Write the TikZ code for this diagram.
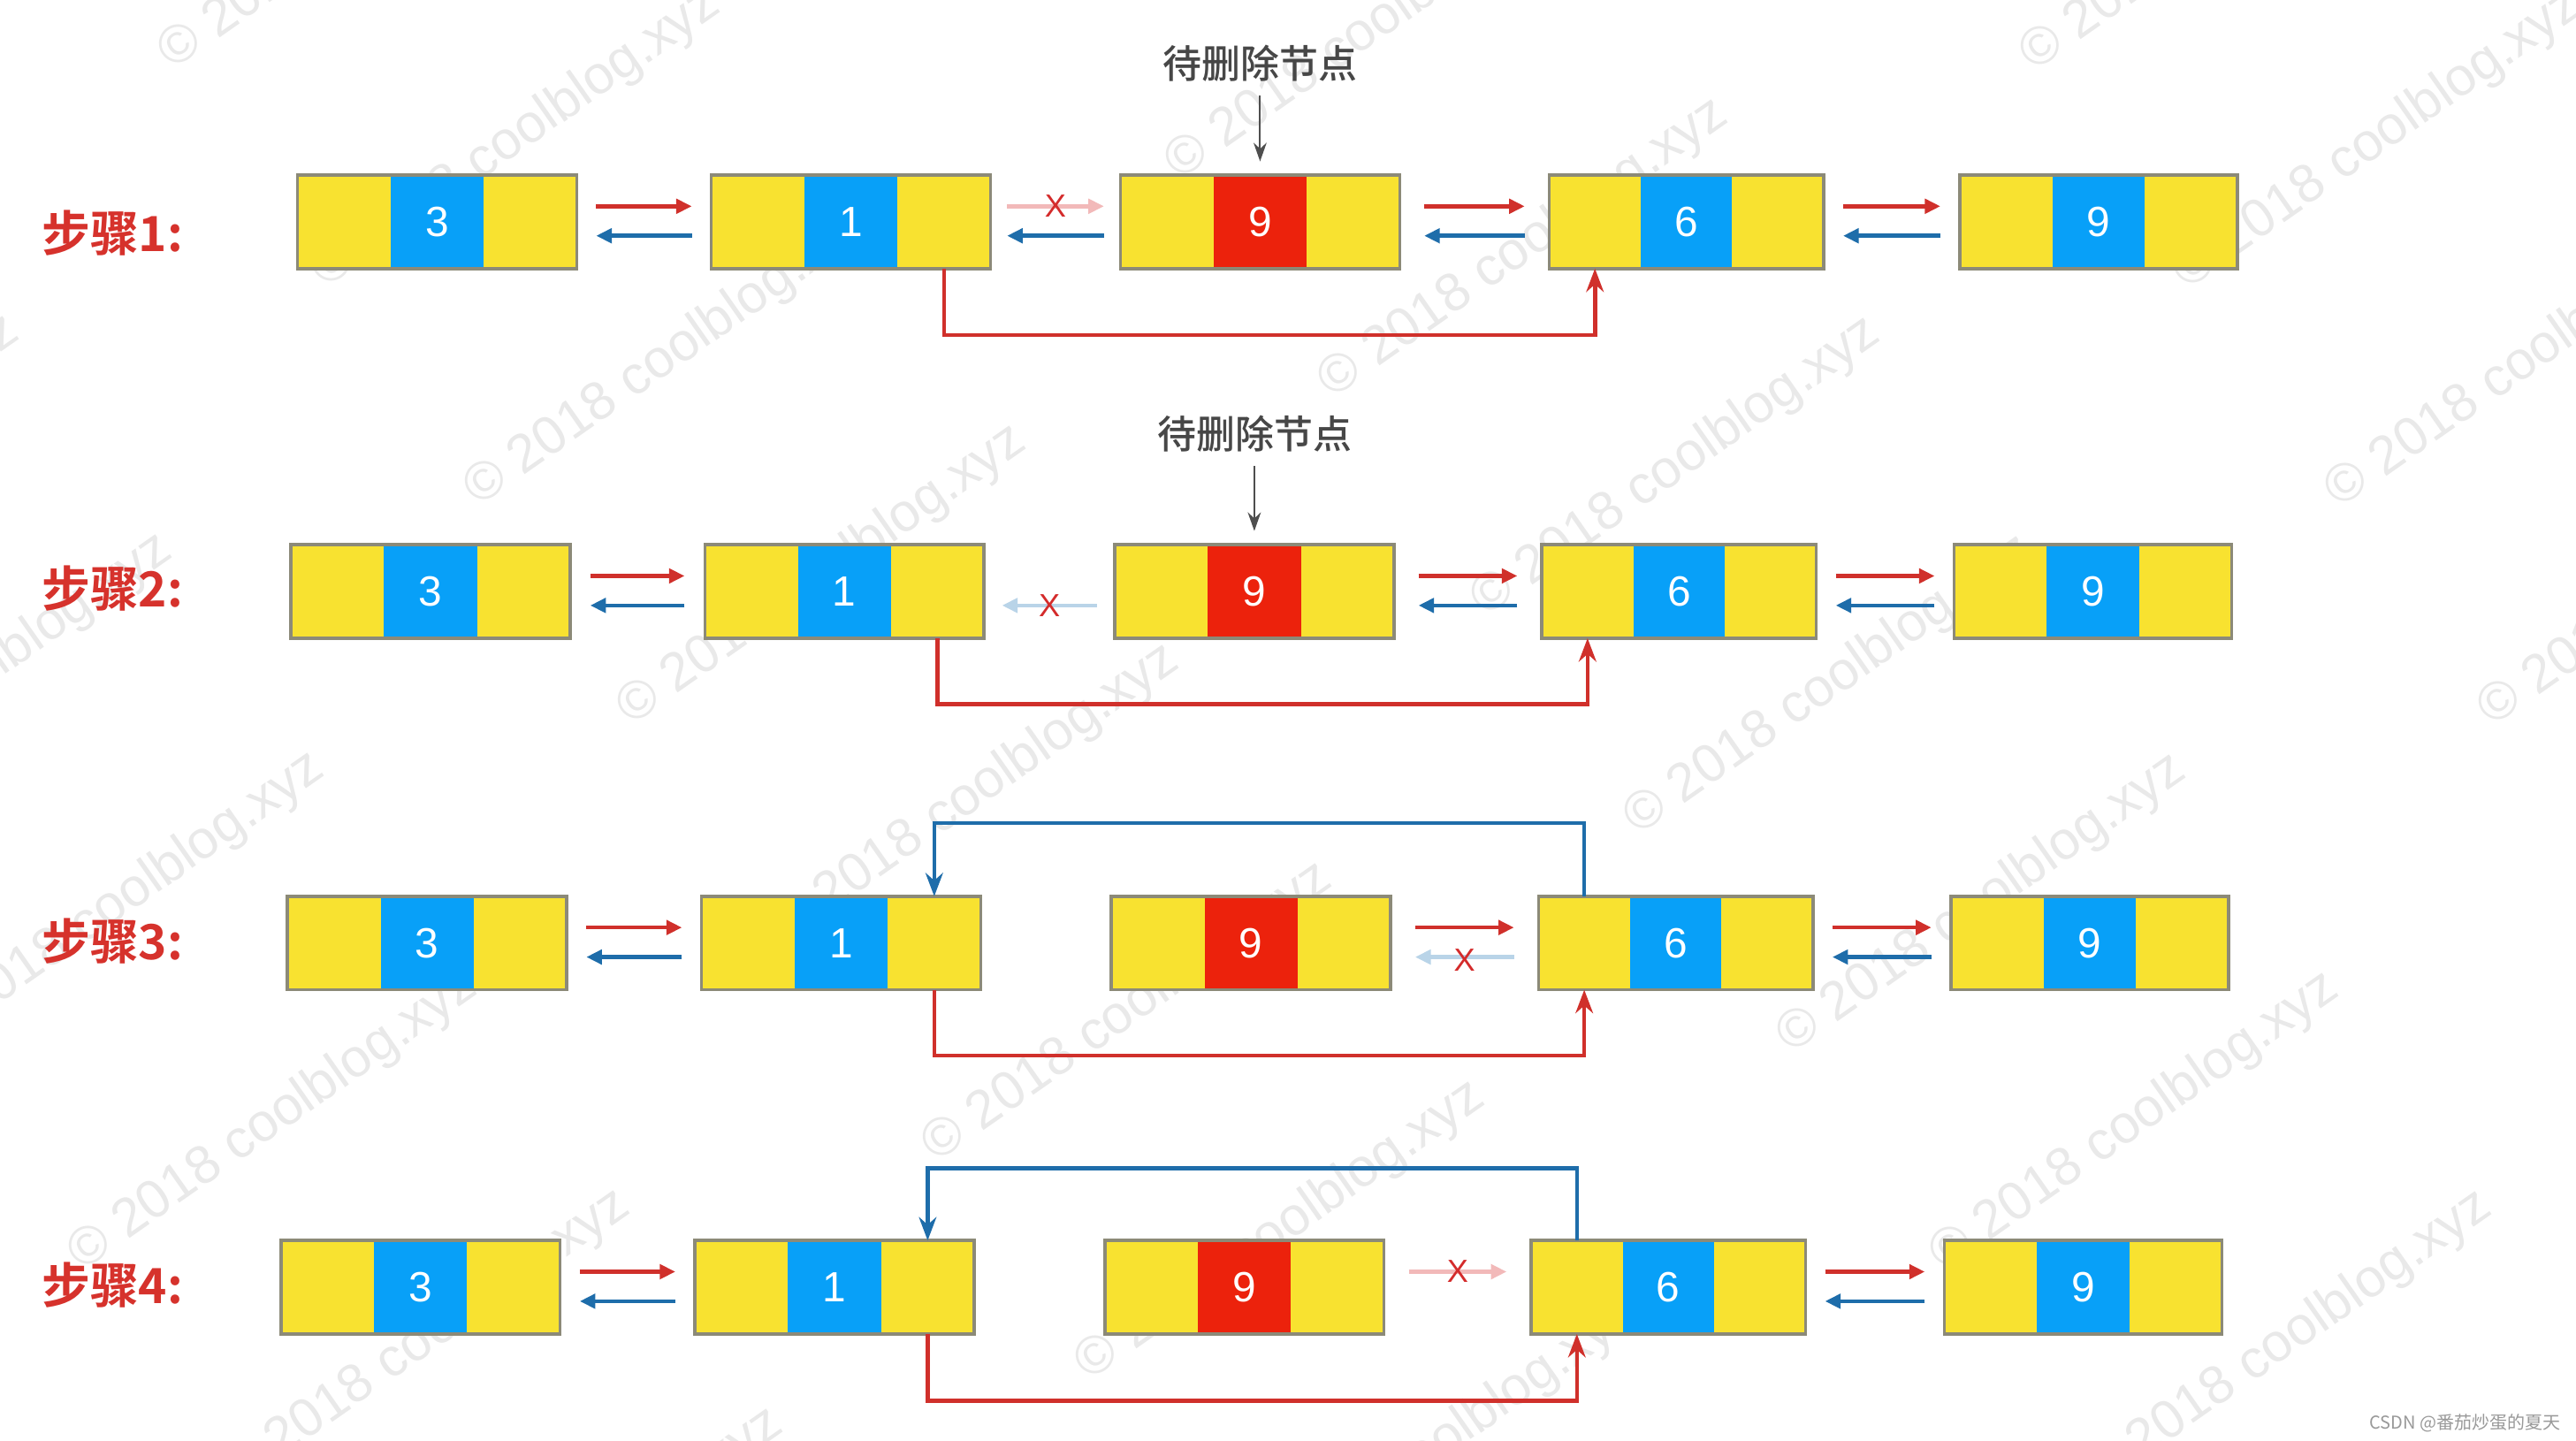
\documentclass[tikz,border=0pt]{standalone}
\usepackage{fontspec}
\setmainfont{Liberation Sans}
\newfontfamily\cjk{Noto Sans CJK SC}
\newfontfamily\cjkm{Noto Sans CJK SC Medium}
\newfontfamily\cjkb{Noto Sans CJK SC Bold}
\usetikzlibrary{arrows.meta,calc}
\definecolor{cyel}{HTML}{F8E230}
\definecolor{cblu}{HTML}{08A0F8}
\definecolor{cred}{HTML}{EC220C}
\definecolor{cbord}{HTML}{8C8A78}
\definecolor{arrred}{HTML}{D0302B}
\definecolor{arrblu}{HTML}{1E6DAA}
\definecolor{fpink}{HTML}{F2B9B9}
\definecolor{fblue}{HTML}{B9D4E8}
\definecolor{xred}{HTML}{D42B2B}
\definecolor{lblred}{HTML}{D6322C}
\definecolor{dgray}{HTML}{474747}
\definecolor{garr}{HTML}{4E4E4E}
\definecolor{wmgray}{HTML}{E9E9E9}
\definecolor{csdn}{HTML}{999999}

\newcommand\llbox[6]{%
  \node[cell, fill=#5, minimum width=#4] (#1-m) at (#2,#3) {#6};
  \node[cell, fill=cyel, minimum width=#4, anchor=east] (#1-l) at (#1-m.west) {};
  \node[cell, fill=cyel, minimum width=#4, anchor=west] (#1-r) at (#1-m.east) {};
  \draw[boxborder] (#1-l.north west) rectangle (#1-r.south east);
}
\newcommand\fw[4]{\draw[#1, shorten <=#4, shorten >=#4] ([yshift=5pt]#2-r.east) -- ([yshift=5pt]#3-l.west);}
\newcommand\bw[4]{\draw[#1, shorten <=#4, shorten >=#4] ([yshift=-4.5pt]#3-l.west) -- ([yshift=-4.5pt]#2-r.east);}

\begin{document}
\begin{tikzpicture}[x=0.5287pt, y=-0.5287pt,
  cell/.style={inner sep=0pt, outer sep=0pt, minimum height=30.1pt, text=white,
    font=\fontsize{13.6}{14}\selectfont},
  boxborder/.style={draw=cbord, line width=1pt},
  fwd/.style={draw=arrred, line width=1.3pt, -{Triangle[length=5pt,width=4.6pt]}},
  bwd/.style={draw=arrblu, line width=1.3pt, -{Triangle[length=5pt,width=4.6pt]}},
  fwdx/.style={draw=fpink, line width=1.3pt, -{Triangle[length=5pt,width=4.6pt]}},
  bwdx/.style={draw=fblue, line width=1.3pt, -{Triangle[length=5pt,width=4.6pt]}},
  xmark/.style={text=xred, font=\fontsize{10.3}{11}\selectfont, inner sep=0pt},
  byred/.style={draw=arrred, line width=1.3pt, -{Stealth[length=7.5pt,width=5.6pt]}},
  byblu/.style={draw=arrblu, line width=1.3pt, -{Stealth[length=7.5pt,width=5.6pt]}},
  grayarr/.style={draw=garr, line width=0.6pt, -{Stealth[length=6pt,width=4.2pt]}},
  delbl/.style={font=\cjkm\fontsize{12.5}{13}\selectfont, text=dgray, inner sep=0pt},
  steplbl/.style={font=\cjkb\fontsize{15.6}{16}\selectfont, text=lblred, inner sep=0pt, anchor=west},
  wm/.style={font=\fontsize{17.3}{18}\selectfont, text=wmgray, rotate=35, anchor=base west, inner sep=0pt},
  csdnlbl/.style={font=\cjk\fontsize{5.7}{6}\selectfont, text=csdn, inner sep=0pt, anchor=east}
]
\useasboundingbox (0,0) rectangle (1568,877);
\fill[white] (0,0) rectangle (1568,877);

% watermark (only the copies that reach the page)
\begin{scope}
\clip (0,0) rectangle (1568,877);
\foreach \i/\j in {2/-1,3/-1,4/-1,5/-1,6/-1,7/-1,
                   0/0,1/0,2/0,3/0,4/0,5/0,6/0,7/0,
                   1/1,2/1,3/1,4/1,5/1,6/1,7/1,
                   1/2,2/2,3/2,4/2}{
  \node[wm] (wm\i x\j) at ({105+93*\i+520*\j},{43+133*\i-66*\j}) {© 2018 coolblog.xyz};
}
\end{scope}

% step labels
\node[steplbl] (s1) at (25,142) {步骤1:};
\node[steplbl] (s2) at (25,358) {步骤2:};
\node[steplbl] (s3) at (25,573) {步骤3:};
\node[steplbl] (s4) at (25,782) {步骤4:};

% row 1
\llbox{A1}{266}{135}{29.96pt}{cblu}{3}
\llbox{B1}{518}{135}{29.96pt}{cblu}{1}
\llbox{C1}{767}{135}{29.96pt}{cred}{9}
\llbox{D1}{1026.5}{135}{29.43pt}{cblu}{6}
\llbox{E1}{1277.5}{135}{29.78pt}{cblu}{9}
% row 2
\llbox{A2}{262}{360}{29.96pt}{cblu}{3}
\llbox{B2}{514}{360}{29.96pt}{cblu}{1}
\llbox{C2}{763.5}{360}{29.96pt}{cred}{9}
\llbox{D2}{1022}{360}{29.43pt}{cblu}{6}
\llbox{E2}{1274}{360}{29.78pt}{cblu}{9}
% row 3
\llbox{A3}{260}{574}{29.96pt}{cblu}{3}
\llbox{B3}{512}{574}{29.96pt}{cblu}{1}
\llbox{C3}{761.5}{574}{29.96pt}{cred}{9}
\llbox{D3}{1020}{574}{29.43pt}{cblu}{6}
\llbox{E3}{1272}{574}{29.78pt}{cblu}{9}
% row 4
\llbox{A4}{256}{783.5}{29.96pt}{cblu}{3}
\llbox{B4}{508}{783.5}{29.96pt}{cblu}{1}
\llbox{C4}{757.5}{783.5}{29.96pt}{cred}{9}
\llbox{D4}{1015.5}{783.5}{29.43pt}{cblu}{6}
\llbox{E4}{1268}{783.5}{29.78pt}{cblu}{9}

% row 1 links
\fw{fwd}{A1}{B1}{6.3pt} \bw{bwd}{A1}{B1}{6.3pt}
\fw{fwdx}{B1}{C1}{5.3pt} \bw{bwd}{B1}{C1}{5.3pt}
\node[xmark] (x1) at ($([yshift=5pt]B1-r.east)!0.5!([yshift=5pt]C1-l.west)$) {X};
\fw{fwd}{C1}{D1}{7.9pt} \bw{bwd}{C1}{D1}{7.9pt}
\fw{fwd}{D1}{E1}{6.3pt} \bw{bwd}{D1}{E1}{6.3pt}
\draw[byred] (B1-r.south) -- ++(0,40.5) -| (D1-l.south);
\node[delbl] (del1) at (767,38.5) {待删除节点};
\draw[grayarr, shorten <=4.4pt, shorten >=4.4pt] (del1.south -| C1-m.north) -- (C1-m.north);

% row 2 links
\fw{fwd}{A2}{B2}{6.5pt} \bw{bwd}{A2}{B2}{6.5pt}
\bw{bwdx}{B2}{C2}{5.8pt}
\node[xmark] (x2) at ($([yshift=-4.5pt]B2-r.east)!0.5!([yshift=-4.5pt]C2-l.west)$) {X};
\fw{fwd}{C2}{D2}{7.9pt} \bw{bwd}{C2}{D2}{7.9pt}
\fw{fwd}{D2}{E2}{6.3pt} \bw{bwd}{D2}{E2}{6.3pt}
\draw[byred] (B2-r.south) -- ++(0,40) -| (D2-l.south);
\node[delbl] (del2) at (764,264) {待删除节点};
\draw[grayarr, shorten <=4.4pt, shorten >=4.4pt] (del2.south -| C2-m.north) -- (C2-m.north);

% row 3 links
\fw{fwd}{A3}{B3}{6.3pt} \bw{bwd}{A3}{B3}{6.3pt}
\fw{fwd}{C3}{D3}{7.9pt} \bw{bwdx}{C3}{D3}{7.9pt}
\node[xmark] (x3) at ($([yshift=-5.5pt]C3-r.east)!0.5!([yshift=-5.5pt]D3-l.west)$) {X};
\fw{fwd}{D3}{E3}{6.3pt} \bw{bwd}{D3}{E3}{6.3pt}
\draw[byred] (B3-r.south) -- ++(0,40) -| (D3-l.south);
\draw[byblu] (D3-l.north) -- ++(0,-44.5) -| (B3-r.north);

% row 4 links
\fw{fwd}{A4}{B4}{6.3pt} \bw{bwd}{A4}{B4}{6.3pt}
\fw{fwdx}{C4}{D4}{7.9pt}
\node[xmark] (x4) at ($([yshift=5pt]C4-r.east)!0.5!([yshift=5pt]D4-l.west)$) {X};
\fw{fwd}{D4}{E4}{6.3pt} \bw{bwd}{D4}{E4}{6.3pt}
\draw[byred] (B4-r.south) -- ++(0,40.5) -| (D4-l.south);
\draw[byblu] (D4-l.north) -- ++(0,-44) -| (B4-r.north);

\node[csdnlbl] (csdn) at (1559,866) {CSDN @番茄炒蛋的夏天};
\end{tikzpicture}
\end{document}
